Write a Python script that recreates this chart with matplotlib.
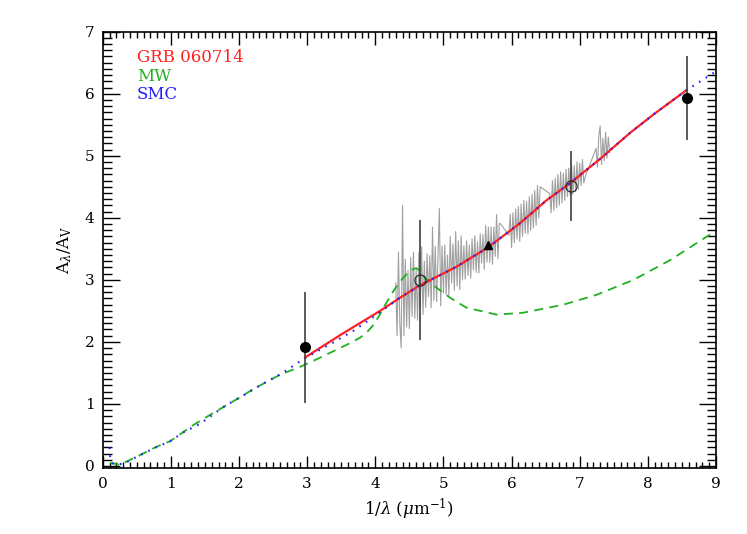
import numpy as np
import matplotlib
matplotlib.use("Agg")
import matplotlib.pyplot as plt
from matplotlib.ticker import MultipleLocator

plt.rcParams['font.family'] = ['DejaVu Serif']
plt.rcParams['mathtext.fontset'] = 'dejavuserif'

# SMC extinction curve (blue dotted)
smc_x = [0.10, 0.11, 0.15, 0.30, 0.45, 0.74, 0.99, 1.18, 1.43, 1.77, 2.02, 2.31,
         2.61, 2.97, 3.38, 3.68, 3.97, 4.36, 4.65, 5.19, 5.65, 6.12, 6.51, 6.86,
         7.30, 7.74, 8.10, 8.57, 9.00]
smc_y = [0.30, 0.12, 0.04, 0.03, 0.12, 0.28, 0.40, 0.54, 0.68, 0.95, 1.11, 1.30,
         1.48, 1.74, 1.99, 2.18, 2.40, 2.71, 2.91, 3.21, 3.52, 3.91, 4.28, 4.56,
         4.95, 5.37, 5.68, 6.06, 6.36]

# MW extinction curve (green dashed)
mw_x = [0.11, 0.25, 0.50, 0.79, 0.99, 1.33, 1.57, 2.02, 2.21, 2.60, 2.90, 3.14,
        3.48, 3.63, 3.78, 3.88, 3.97, 4.05, 4.12, 4.19, 4.26, 4.33, 4.40, 4.47,
        4.53, 4.60, 4.66, 4.72, 4.88, 5.10, 5.34, 5.78, 6.17, 6.76, 7.25, 7.79,
        8.33, 8.84, 9.00]
mw_y = [0.05, 0.02, 0.15, 0.31, 0.40, 0.66, 0.82, 1.11, 1.24, 1.47, 1.60, 1.72,
        1.90, 1.98, 2.07, 2.16, 2.27, 2.41, 2.55, 2.68, 2.81, 2.92, 3.02, 3.10,
        3.16, 3.19, 3.14, 3.04, 2.89, 2.71, 2.55, 2.44, 2.47, 2.60, 2.76, 3.00,
        3.32, 3.68, 3.79]

# GRB 060714 fitted curve (red solid)
grb_x = [2.97, 3.50, 4.07, 4.36, 4.65, 5.19, 5.65, 6.12, 6.51, 6.86, 7.30, 7.74,
         8.10, 8.57]
grb_y = [1.75, 2.12, 2.50, 2.71, 2.91, 3.21, 3.52, 3.91, 4.28, 4.56, 4.95, 5.37,
         5.68, 6.06]

# photometric points
phot_x = [2.97, 8.58]
phot_y = [1.91, 5.93]
phot_err = [0.90, 0.68]
open_x = [4.66, 6.87]
open_y = [3.00, 4.51]
open_err = [0.97, 0.56]
tri_x = [5.65]
tri_y = [3.56]

# spectrum (gray)
spec_x = [4.30, 4.32, 4.34, 4.36, 4.38, 4.40, 4.42, 4.44, 4.46, 4.48, 4.50, 4.52,
          4.54, 4.56, 4.58, 4.60, 4.62, 4.64, 4.66, 4.68, 4.70, 4.72, 4.74, 4.76,
          4.78, 4.80, 4.82, 4.84, 4.86, 4.88, 4.90, 4.92, 4.94, 4.96, 4.98, 5.00,
          5.02, 5.04, 5.06, 5.08, 5.10, 5.12, 5.14, 5.16, 5.18, 5.20, 5.22, 5.24,
          5.26, 5.28, 5.30, 5.32, 5.34, 5.36, 5.38, 5.40, 5.42, 5.44, 5.46, 5.48,
          5.50, 5.52, 5.54, 5.56, 5.58, 5.60, 5.62, 5.64, 5.66, 5.68, 5.70, 5.72,
          5.74, 5.76, 5.78, 5.80, 5.82, 5.84,
          5.96, 5.98, 6.00, 6.02, 6.04, 6.06, 6.08, 6.10, 6.12, 6.14, 6.16, 6.18,
          6.20, 6.22, 6.24, 6.26, 6.28, 6.30, 6.32, 6.34, 6.36, 6.38, 6.40, 6.42,
          6.56, 6.58, 6.60, 6.62, 6.64, 6.66, 6.68, 6.70, 6.72, 6.74, 6.76, 6.78,
          6.80, 6.82, 6.84, 6.86, 6.88, 6.90, 6.92, 6.94, 6.96, 6.98, 7.00, 7.02,
          7.04, 7.06, 7.08,
          7.24, 7.26, 7.28, 7.30, 7.32, 7.34, 7.36, 7.38, 7.40, 7.42, 7.44]
spec_y = [2.95, 2.10, 3.45, 2.30, 1.90, 4.20, 2.10, 3.33, 2.24, 3.15, 2.21, 3.36,
          2.41, 3.45, 2.38, 3.18, 2.35, 3.44, 2.56, 3.53, 2.44, 3.30, 2.56, 3.42,
          2.73, 3.39, 2.55, 3.85, 2.67, 3.54, 2.65, 3.36, 4.15, 2.58, 3.54, 2.79,
          3.56, 2.76, 3.40, 2.75, 3.70, 2.95, 3.58, 2.83, 3.78, 2.90, 3.63, 2.84,
          3.71, 3.00, 3.55, 3.01, 3.63, 3.07, 3.56, 3.03, 3.66, 3.16, 3.71, 3.12,
          3.61, 3.11, 3.74, 3.27, 3.73, 3.17, 3.88, 3.29, 3.85, 3.28, 3.85, 3.25,
          3.85, 3.38, 4.05, 3.34, 3.91, 3.90,
          3.72, 4.06, 3.52, 4.08, 3.60, 4.14, 3.66, 4.18, 3.62, 4.22, 3.70, 4.28,
          3.75, 4.26, 3.74, 4.34, 3.80, 4.38, 3.84, 4.44, 3.88, 4.52, 4.00, 4.50,
          4.39, 4.08, 4.60, 4.12, 4.64, 4.16, 4.70, 4.20, 4.74, 4.24, 4.72, 4.28,
          4.78, 4.34, 4.80, 4.36, 4.86, 4.38, 4.84, 4.42, 4.90, 4.46, 4.88, 4.52,
          4.94, 4.56, 4.66,
          5.12, 4.82, 5.32, 5.48, 4.86, 5.28, 4.92, 5.38, 4.96, 5.30, 5.05]

red = '#ff2020'
green = '#20b020'
blue = '#2020ff'

fig = plt.figure(figsize=(7.47, 5.34), dpi=100)
ax = fig.add_axes([0.1375, 0.1227, 0.821, 0.818])

ax.plot(spec_x, spec_y, color='#a0a0a0', lw=0.8, zorder=1)
ax.plot(mw_x, mw_y, color=green, lw=1.3, ls=(0, (5, 3.5)), zorder=2)
ax.plot(grb_x, grb_y, color=red, lw=1.6, zorder=3)
ax.plot(smc_x, smc_y, color=blue, lw=1.5, ls=(0, (0.8, 3)), zorder=4)

ax.errorbar(phot_x, phot_y, yerr=phot_err, fmt='o', color='black', ms=7,
            ecolor='#404040', elinewidth=1.2, capsize=0, zorder=5)
ax.errorbar(open_x, open_y, yerr=open_err, fmt='o', mfc='none', mec='#222222',
            mew=0.8, ms=8, ecolor='#404040', elinewidth=1.2, capsize=0, zorder=5)
ax.plot(tri_x, tri_y, '^', color='black', ms=6, zorder=5)

ax.text(0.5, 6.58, 'GRB 060714', color=red, fontsize=12, va='center')
ax.text(0.5, 6.28, 'MW', color=green, fontsize=12, va='center')
ax.text(0.5, 5.98, 'SMC', color=blue, fontsize=12, va='center')

ax.set_xlim(0, 9)
ax.set_ylim(-0.04, 7)
ax.xaxis.set_major_locator(MultipleLocator(1))
ax.xaxis.set_minor_locator(MultipleLocator(0.1))
ax.yaxis.set_major_locator(MultipleLocator(1))
ax.yaxis.set_minor_locator(MultipleLocator(0.1))
ax.tick_params(axis='both', which='both', direction='in', top=True, right=True,
               labelsize=11, width=1.0, pad=6)
ax.tick_params(axis='x', which='major', length=9)
ax.tick_params(axis='x', which='minor', length=4.5)
ax.tick_params(axis='y', which='major', length=12.5)
ax.tick_params(axis='y', which='minor', length=6.5)
for s in ax.spines.values():
    s.set_linewidth(1.2)

ax.set_xlabel(r'1/$\lambda$ ($\mu$m$^{-1}$)', fontsize=12, labelpad=4)
ax.set_ylabel(r'A$_\lambda$/A$_\mathrm{V}$', fontsize=12, labelpad=8)

fig.savefig('out.png', dpi=100)
